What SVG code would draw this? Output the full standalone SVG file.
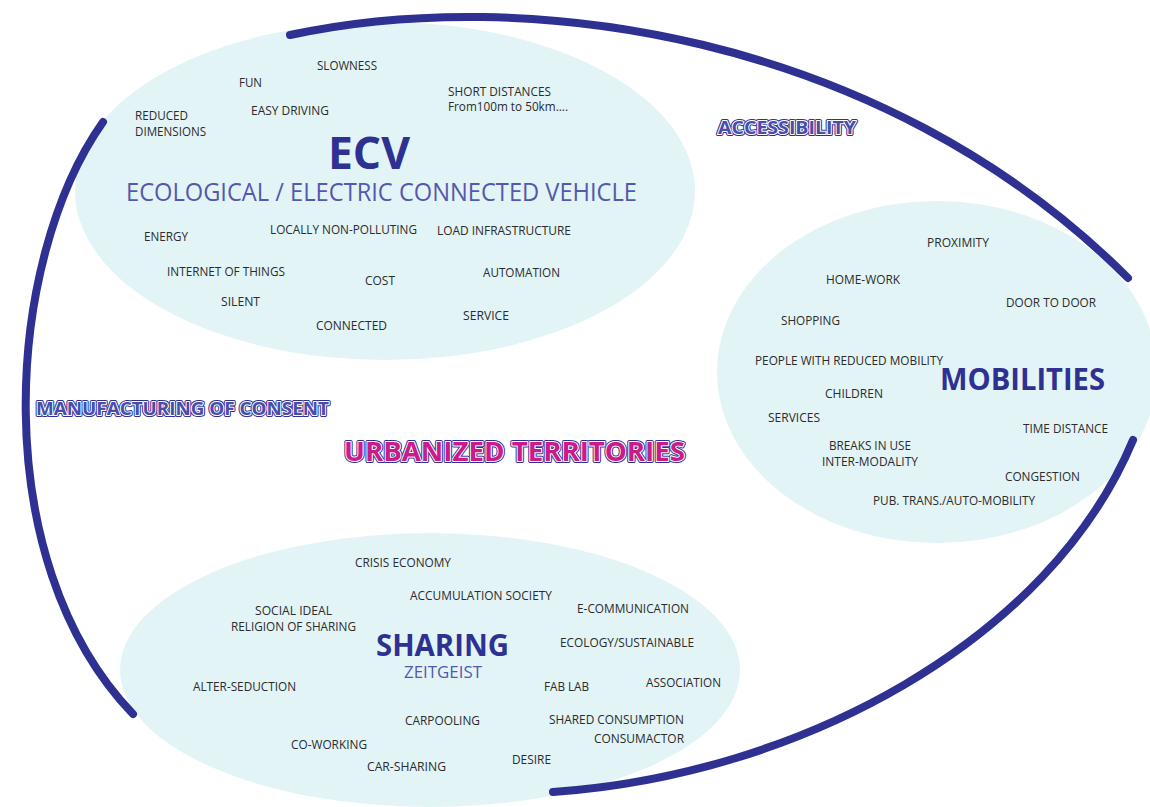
<svg xmlns="http://www.w3.org/2000/svg" width="1150" height="807" viewBox="0 0 1150 807">
<style>
.bg{fill:#e3f4f7}
.arc{fill:none;stroke:#2e3192;stroke-width:8;stroke-linecap:round}
.lb{font-family:"Open Sans","Liberation Sans",Arial,sans-serif;font-size:12px;fill:#2b2b2b}
.tt{font-family:"Open Sans","Liberation Sans",Arial,sans-serif;font-weight:bold;fill:#2e3192}
.st{font-family:"Open Sans","Liberation Sans",Arial,sans-serif;fill:#5558ae}
.o1{font-family:"Open Sans","Liberation Sans",Arial,sans-serif;font-weight:bold;fill:none;stroke:#2e3192;stroke-width:4;stroke-linejoin:round}
.o2{font-family:"Open Sans","Liberation Sans",Arial,sans-serif;font-weight:bold;fill:none;stroke:#ffffff;stroke-width:2;stroke-linejoin:round}
.o3b{font-family:"Open Sans","Liberation Sans",Arial,sans-serif;font-weight:bold;fill:#4a4dab}
.o3m{font-family:"Open Sans","Liberation Sans",Arial,sans-serif;font-weight:bold;fill:#cc1a8a}
</style>
<rect width="1150" height="807" fill="#ffffff"/>

<g id="ecv">
<ellipse class="bg" cx="385" cy="191" rx="310" ry="169"/>
<text class="lb" x="317" y="70" textLength="60" lengthAdjust="spacingAndGlyphs">SLOWNESS</text>
<text class="lb" x="239" y="87" textLength="23" lengthAdjust="spacingAndGlyphs">FUN</text>
<text class="lb" x="448" y="96" textLength="103" lengthAdjust="spacingAndGlyphs">SHORT DISTANCES</text>
<text class="lb" x="448" y="111" textLength="120" lengthAdjust="spacingAndGlyphs">From100m to 50km....</text>
<text class="lb" x="251" y="115" textLength="78" lengthAdjust="spacingAndGlyphs">EASY DRIVING</text>
<text class="lb" x="135" y="120" textLength="53" lengthAdjust="spacingAndGlyphs">REDUCED</text>
<text class="lb" x="135" y="136" textLength="71" lengthAdjust="spacingAndGlyphs">DIMENSIONS</text>
<text class="tt" x="328" y="169" font-size="44" textLength="82" lengthAdjust="spacingAndGlyphs">ECV</text>
<text class="st" x="126" y="201" font-size="25" textLength="511" lengthAdjust="spacingAndGlyphs">ECOLOGICAL / ELECTRIC CONNECTED VEHICLE</text>
<text class="lb" x="144" y="241" textLength="44" lengthAdjust="spacingAndGlyphs">ENERGY</text>
<text class="lb" x="270" y="234" textLength="147" lengthAdjust="spacingAndGlyphs">LOCALLY NON-POLLUTING</text>
<text class="lb" x="437" y="235" textLength="134" lengthAdjust="spacingAndGlyphs">LOAD INFRASTRUCTURE</text>
<text class="lb" x="167" y="276" textLength="118" lengthAdjust="spacingAndGlyphs">INTERNET OF THINGS</text>
<text class="lb" x="483" y="277" textLength="77" lengthAdjust="spacingAndGlyphs">AUTOMATION</text>
<text class="lb" x="365" y="285" textLength="30" lengthAdjust="spacingAndGlyphs">COST</text>
<text class="lb" x="221" y="306" textLength="39" lengthAdjust="spacingAndGlyphs">SILENT</text>
<text class="lb" x="463" y="320" textLength="46" lengthAdjust="spacingAndGlyphs">SERVICE</text>
<text class="lb" x="316" y="330" textLength="71" lengthAdjust="spacingAndGlyphs">CONNECTED</text>
</g>

<g id="mobilities">
<ellipse class="bg" cx="937" cy="372" rx="220" ry="171"/>
<text class="lb" x="927" y="247" textLength="62" lengthAdjust="spacingAndGlyphs">PROXIMITY</text>
<text class="lb" x="826" y="284" textLength="74" lengthAdjust="spacingAndGlyphs">HOME-WORK</text>
<text class="lb" x="1006" y="307" textLength="90" lengthAdjust="spacingAndGlyphs">DOOR TO DOOR</text>
<text class="lb" x="781" y="325" textLength="59" lengthAdjust="spacingAndGlyphs">SHOPPING</text>
<text class="lb" x="755" y="365" textLength="188" lengthAdjust="spacingAndGlyphs">PEOPLE WITH REDUCED MOBILITY</text>
<text class="tt" x="940" y="390" font-size="30" textLength="165" lengthAdjust="spacingAndGlyphs">MOBILITIES</text>
<text class="lb" x="825" y="398" textLength="58" lengthAdjust="spacingAndGlyphs">CHILDREN</text>
<text class="lb" x="768" y="422" textLength="52" lengthAdjust="spacingAndGlyphs">SERVICES</text>
<text class="lb" x="1023" y="433" textLength="85" lengthAdjust="spacingAndGlyphs">TIME DISTANCE</text>
<text class="lb" x="829" y="450" textLength="82" lengthAdjust="spacingAndGlyphs">BREAKS IN USE</text>
<text class="lb" x="822" y="466" textLength="96" lengthAdjust="spacingAndGlyphs">INTER-MODALITY</text>
<text class="lb" x="1005" y="481" textLength="75" lengthAdjust="spacingAndGlyphs">CONGESTION</text>
<text class="lb" x="873" y="505" textLength="162" lengthAdjust="spacingAndGlyphs">PUB. TRANS./AUTO-MOBILITY</text>
</g>

<g id="sharing">
<ellipse class="bg" cx="430" cy="670" rx="310" ry="137"/>
<text class="lb" x="355" y="567" textLength="96" lengthAdjust="spacingAndGlyphs">CRISIS ECONOMY</text>
<text class="lb" x="410" y="600" textLength="142" lengthAdjust="spacingAndGlyphs">ACCUMULATION SOCIETY</text>
<text class="lb" x="577" y="613" textLength="112" lengthAdjust="spacingAndGlyphs">E-COMMUNICATION</text>
<text class="lb" x="255" y="615" textLength="77" lengthAdjust="spacingAndGlyphs">SOCIAL IDEAL</text>
<text class="lb" x="231" y="631" textLength="125" lengthAdjust="spacingAndGlyphs">RELIGION OF SHARING</text>
<text class="tt" x="376" y="656" font-size="30" textLength="133" lengthAdjust="spacingAndGlyphs">SHARING</text>
<text class="lb" x="560" y="647" textLength="134" lengthAdjust="spacingAndGlyphs">ECOLOGY/SUSTAINABLE</text>
<text class="st" x="404" y="678" font-size="17" textLength="78" lengthAdjust="spacingAndGlyphs">ZEITGEIST</text>
<text class="lb" x="193" y="691" textLength="103" lengthAdjust="spacingAndGlyphs">ALTER-SEDUCTION</text>
<text class="lb" x="544" y="691" textLength="45" lengthAdjust="spacingAndGlyphs">FAB LAB</text>
<text class="lb" x="646" y="687" textLength="75" lengthAdjust="spacingAndGlyphs">ASSOCIATION</text>
<text class="lb" x="405" y="725" textLength="75" lengthAdjust="spacingAndGlyphs">CARPOOLING</text>
<text class="lb" x="549" y="724" textLength="135" lengthAdjust="spacingAndGlyphs">SHARED CONSUMPTION</text>
<text class="lb" x="594" y="743" textLength="90" lengthAdjust="spacingAndGlyphs">CONSUMACTOR</text>
<text class="lb" x="291" y="749" textLength="76" lengthAdjust="spacingAndGlyphs">CO-WORKING</text>
<text class="lb" x="512" y="764" textLength="39" lengthAdjust="spacingAndGlyphs">DESIRE</text>
<text class="lb" x="367" y="771" textLength="79" lengthAdjust="spacingAndGlyphs">CAR-SHARING</text>
</g>

<g id="connectors">
<path class="arc" d="M290,35 C520,-15 880,30 1128,278"/>
<path class="arc" d="M103,122 C5,260 -15,560 133,714"/>
<path class="arc" d="M553,792 C800,775 1050,640 1133,440"/>
</g>

<g id="accessibility">
<text class="o1" x="718" y="134" font-size="18" textLength="138" lengthAdjust="spacingAndGlyphs">ACCESSIBILITY</text>
<text class="o2" x="718" y="134" font-size="18" textLength="138" lengthAdjust="spacingAndGlyphs">ACCESSIBILITY</text>
<text class="o3b" x="718" y="134" font-size="18" textLength="138" lengthAdjust="spacingAndGlyphs">ACCESSIBILITY</text>
</g>

<g id="manufacturing">
<text class="o1" x="36" y="415" font-size="18" textLength="293" lengthAdjust="spacingAndGlyphs">MANUFACTURING OF CONSENT</text>
<text class="o2" x="36" y="415" font-size="18" textLength="293" lengthAdjust="spacingAndGlyphs">MANUFACTURING OF CONSENT</text>
<text class="o3b" x="36" y="415" font-size="18" textLength="293" lengthAdjust="spacingAndGlyphs">MANUFACTURING OF CONSENT</text>
</g>

<g id="urbanized">
<text class="o1" x="344" y="461" font-size="27" textLength="341" lengthAdjust="spacingAndGlyphs">URBANIZED TERRITORIES</text>
<text class="o2" x="344" y="461" font-size="27" textLength="341" lengthAdjust="spacingAndGlyphs">URBANIZED TERRITORIES</text>
<text class="o3m" x="344" y="461" font-size="27" textLength="341" lengthAdjust="spacingAndGlyphs">URBANIZED TERRITORIES</text>
</g>
</svg>
